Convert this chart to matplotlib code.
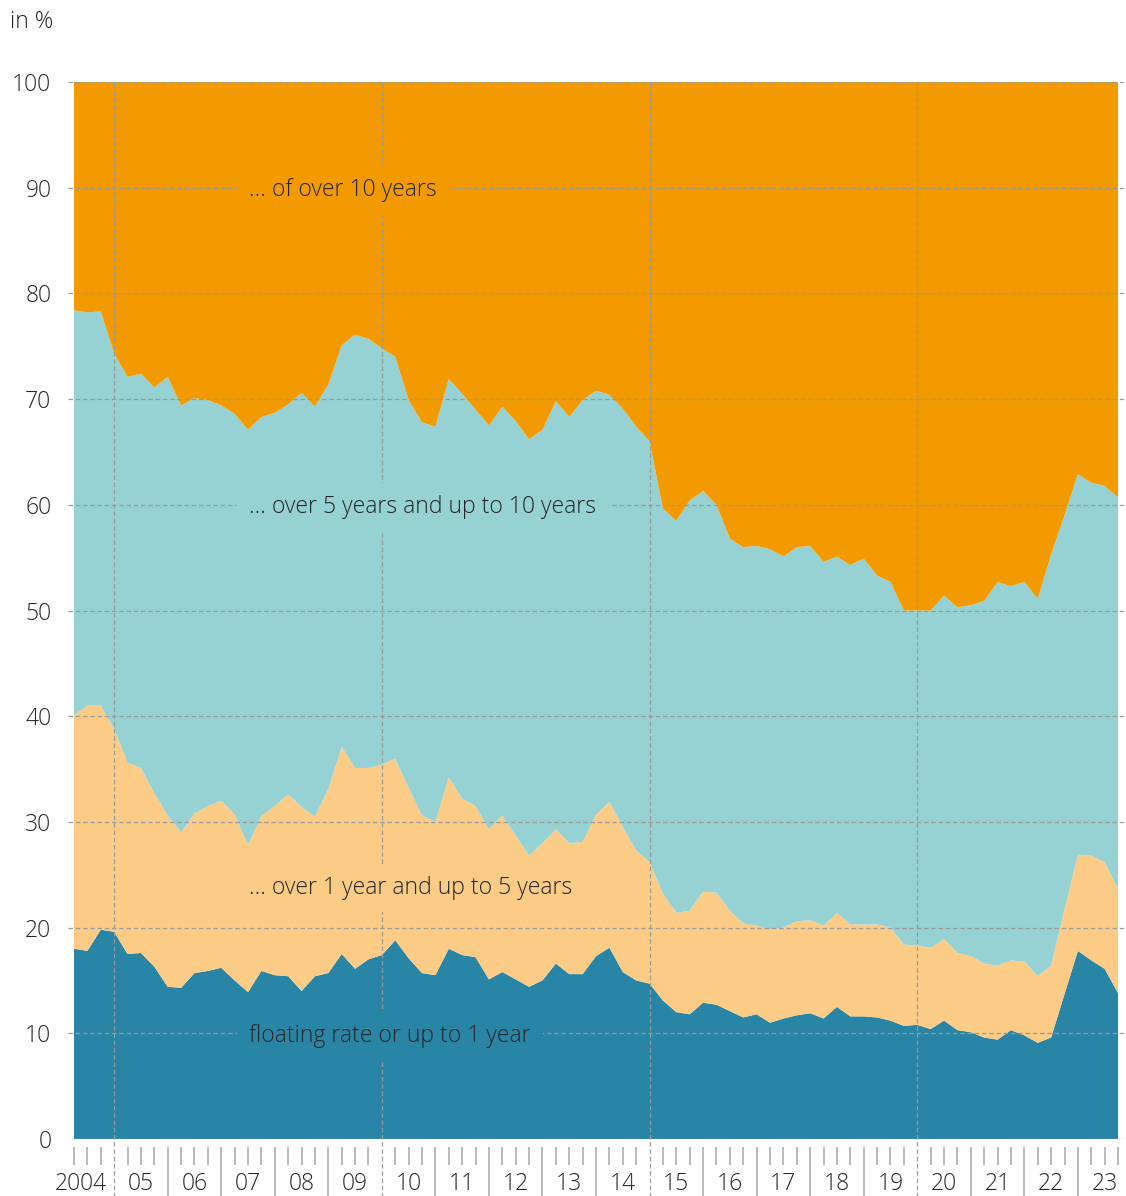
import numpy as np
import pandas as pd
import matplotlib.pyplot as plt

# Quartale 2004 Q2 bis 2023 Q4
quarters = pd.period_range('2004Q2', '2023Q4', freq='Q')

# Obergrenzen der gestapelten Flächen (kumuliert, in %)
up_to_1y = [18.0, 17.8, 19.8, 19.6, 17.5, 17.6, 16.3, 14.4, 14.3, 15.7,
            15.9, 16.2, 15.0, 13.9, 15.9, 15.5, 15.4, 14.0, 15.4, 15.7,
            17.5, 16.1, 17.0, 17.4, 18.8, 17.1, 15.7, 15.5, 18.0, 17.4,
            17.2, 15.1, 15.8, 15.1, 14.4, 15.0, 16.6, 15.6, 15.6, 17.3,
            18.1, 15.8, 15.0, 14.7, 13.1, 12.0, 11.8, 12.9, 12.7, 12.1,
            11.5, 11.8, 11.0, 11.4, 11.7, 11.9, 11.4, 12.5, 11.6, 11.6,
            11.5, 11.2, 10.7, 10.8, 10.4, 11.2, 10.3, 10.1, 9.6, 9.4,
            10.3, 9.8, 9.1, 9.6, 13.7, 17.8, 16.9, 16.1, 13.8]

up_to_5y = [40.1, 41.0, 41.0, 38.8, 35.6, 35.1, 32.7, 30.6, 29.0, 30.8,
            31.5, 32.0, 30.7, 27.8, 30.6, 31.5, 32.6, 31.4, 30.5, 33.1,
            37.1, 35.1, 35.1, 35.4, 36.0, 33.2, 30.6, 30.0, 34.2, 32.2,
            31.5, 29.3, 30.6, 28.7, 26.8, 28.0, 29.3, 28.0, 28.1, 30.7,
            31.9, 29.5, 27.3, 26.2, 23.2, 21.4, 21.6, 23.4, 23.3, 21.6,
            20.4, 20.2, 19.8, 20.0, 20.6, 20.7, 20.2, 21.4, 20.3, 20.3,
            20.3, 20.0, 18.4, 18.3, 18.1, 18.9, 17.6, 17.3, 16.6, 16.4,
            16.9, 16.8, 15.4, 16.4, 21.7, 26.9, 26.8, 26.2, 23.7]

up_to_10y = [78.4, 78.2, 78.3, 74.3, 72.1, 72.4, 71.1, 72.1, 69.4, 70.1,
             69.9, 69.4, 68.6, 67.1, 68.3, 68.7, 69.5, 70.6, 69.3, 71.4,
             75.1, 76.1, 75.7, 74.8, 74.0, 69.9, 67.8, 67.4, 71.9, 70.5,
             69.0, 67.5, 69.3, 67.9, 66.2, 67.1, 69.8, 68.3, 69.9, 70.8,
             70.4, 69.1, 67.4, 66.0, 59.6, 58.5, 60.4, 61.3, 60.0, 56.8,
             56.0, 56.1, 55.8, 55.1, 56.0, 56.1, 54.6, 55.1, 54.3, 54.9,
             53.3, 52.7, 50.0, 50.0, 50.0, 51.4, 50.3, 50.5, 50.9, 52.7,
             52.3, 52.7, 51.1, 55.3, 59.0, 62.9, 62.1, 61.8, 60.7]

series_labels = ['floating rate or up to 1 year',
                 '... over 1 year and up to 5 years',
                 '... over 5 years and up to 10 years',
                 '... of over 10 years']
label_y = [10, 24, 60, 90]
colors = ['#2985a6', '#fccb86', '#96d1d3', '#f39a00']

plt.rcParams['font.family'] = ['Open Sans', 'DejaVu Sans']
plt.rcParams['font.weight'] = 'light'
text_color = '#262626'
grid_color = '#9a9a9a'

x = np.arange(len(quarters))
b1 = np.array(up_to_1y)
b2 = np.array(up_to_5y)
b3 = np.array(up_to_10y)
shares = [b1, b2 - b1, b3 - b2, 100 - b3]

fig = plt.figure(figsize=(11.26, 11.96), dpi=100)
ax = fig.add_axes([68 / 1126, 57 / 1196, 1057 / 1126, 1057 / 1196])

ax.stackplot(x, *shares, colors=colors, linewidth=0)

ax.set_xlim(-0.45, len(x) - 1 + 0.52)
ax.set_ylim(0, 100)
ax.set_yticks(np.arange(0, 101, 10))
ax.set_xticks([])
for s in ax.spines.values():
    s.set_visible(False)
ax.tick_params(axis='y', length=0, pad=12, labelsize=16.5, labelcolor=text_color)
ax.set_axisbelow(False)
ax.grid(axis='y', color=grid_color, linestyle=(0, (3.6, 2.2)), linewidth=0.9)

# Achsenstriche unter dem Diagramm: kurze je Quartal, lange je Jahr
xt = ax.get_xaxis_transform()
q_short = [i for i, p in enumerate(quarters) if p.quarter != 1]
q_year = [i for i, p in enumerate(quarters) if p.quarter == 1 and p.year % 5 != 0]
q_five = [i for i, p in enumerate(quarters) if p.quarter == 1 and p.year % 5 == 0]
ax.vlines(q_short, -0.025, -0.0075, transform=xt, colors='#b5b5b5',
          linewidth=1.3, clip_on=False)
ax.vlines(q_year, -0.054, -0.0075, transform=xt, colors='#b5b5b5',
          linewidth=1.3, clip_on=False)
ax.vlines(q_five, -0.056, 1, transform=xt, colors=grid_color,
          linestyle=(0, (3.6, 2.2)), linewidth=0.9, clip_on=False, zorder=2.6)

# Jahresbeschriftung
for yr in sorted(set(p.year for p in quarters)):
    if yr == quarters[0].year:
        pos, txt = 0.5, str(yr)
    else:
        q1 = [i for i, p in enumerate(quarters) if p.year == yr and p.quarter == 1][0]
        pos, txt = q1 + 2, f'{yr % 100:02d}'
    ax.text(pos, -0.0425, txt, transform=xt, ha='center', va='center',
            fontsize=16.5, color=text_color)

# Beschriftungen in den Flächen
for lab, yv, c in zip(series_labels, label_y, colors):
    ax.text(13.1, yv - 0.25, lab, ha='left', va='center', fontsize=16.6,
            color=text_color, zorder=4,
            bbox=dict(facecolor=c, edgecolor='none', pad=9))

fig.text(10 / 1126, 1 - 22 / 1196, 'in %', ha='left', va='center',
         fontsize=16.5, color=text_color)

fig.savefig('out.png', dpi=100)
